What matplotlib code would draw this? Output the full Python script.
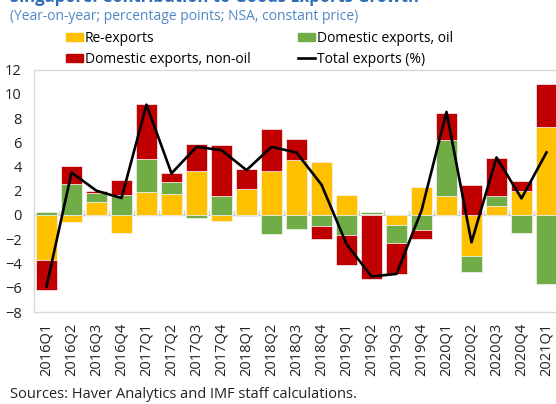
import matplotlib
matplotlib.use("Agg")
import matplotlib.pyplot as plt
from matplotlib.patches import Patch
from matplotlib.lines import Line2D
import numpy as np

plt.rcParams['font.family'] = ['Open Sans', 'DejaVu Sans']

quarters = ["2016Q1", "2016Q2", "2016Q3", "2016Q4", "2017Q1", "2017Q2", "2017Q3",
            "2017Q4", "2018Q1", "2018Q2", "2018Q3", "2018Q4", "2019Q1", "2019Q2",
            "2019Q3", "2019Q4", "2020Q1", "2020Q2", "2020Q3", "2020Q4", "2021Q1"]
re_exports = [-3.7, -0.6, 1.1, -1.5, 1.92, 1.73, 3.6, -0.47, 2.11, 3.6, 4.55, 4.33,
              1.65, 0.05, -0.85, 2.28, 1.56, -3.4, 0.71, 2.0, 7.27]
dom_oil = [0.27, 2.55, 0.7, 1.65, 2.7, 1.0, -0.25, 1.54, -0.1, -1.56, -1.15, -0.9,
           -1.62, 0.22, -1.5, -1.23, 4.64, -1.32, 0.82, -1.45, -5.68]
dom_nonoil = [-2.45, 1.5, 0.17, 1.23, 4.5, 0.7, 2.24, 4.22, 1.65, 3.53, 1.7, -1.07,
              -2.47, -5.3, -2.52, -0.75, 2.25, 2.47, 3.2, 0.77, 3.51]
total = [-5.9, 3.5, 2.0, 1.4, 9.1, 3.43, 5.62, 5.35, 3.7, 5.62, 5.15, 2.5,
         -2.4, -5.07, -4.86, 0.36, 8.5, -2.25, 4.75, 1.37, 5.16]

c_re = "#FFC000"
c_oil = "#70AD47"
c_non = "#C00000"

fig = plt.figure(figsize=(5.56, 4.04), dpi=100)
ax = fig.add_axes([34/556, 92/404, 525/556, 242.5/404])

x = np.arange(len(quarters))
pos = np.zeros(len(x))
neg = np.zeros(len(x))
for vals, col in [(re_exports, c_re), (dom_oil, c_oil), (dom_nonoil, c_non)]:
    v = np.array(vals)
    bottom = np.where(v >= 0, pos, neg)
    ax.bar(x, v, bottom=bottom, width=0.84, color=col, edgecolor="#f4f4f4",
           linewidth=0.5, zorder=2)
    pos = pos + np.where(v >= 0, v, 0)
    neg = neg + np.where(v < 0, v, 0)

ax.axhline(0, color="#d0d0d0", lw=1, zorder=1)
ax.vlines(x[:-1] + 0.5, 0, 0.4, color="#d0d0d0", lw=1, zorder=1)
ax.plot(x, total, color="black", lw=1.9, zorder=3)

ax.set_xlim(-0.5, len(x) - 0.5)
ax.set_ylim(-8, 12)
ax.set_yticks(range(-8, 13, 2))
ax.set_xticks(x)
ax.set_xticklabels(quarters, rotation=90)
ax.tick_params(axis="both", length=0, labelsize=10.5, colors="#222222")
ax.tick_params(axis="x", pad=8)
ax.tick_params(axis="y", pad=9)
for s in ax.spines.values():
    s.set_color("#d9d9d9")
    s.set_linewidth(1)

handles = [Patch(color=c_re), Patch(color=c_non), Patch(color=c_oil),
           Line2D([], [], color="black", lw=1.9)]
labels = ["Re-exports", "Domestic exports, non-oil", "Domestic exports, oil",
          "Total exports (%)"]
fig.legend(handles, labels, ncol=2, loc="upper left",
           bbox_to_anchor=(66/556, 1 - 31/404), frameon=False, fontsize=10,
           handlelength=1.2, handleheight=0.55, handletextpad=0.15,
           columnspacing=3.45, labelspacing=0.42, borderaxespad=0, borderpad=0)

fig.text(10/556, 1 + 3/404, "Singapore: Contribution to Goods Exports Growth",
         fontsize=12, fontweight="bold", color="#2f6fb5", va="center")
fig.text(10/556, 1 - 17/404,
         "(Year-on-year; percentage points; NSA, constant price)",
         fontsize=10, color="#4f88c6", va="center")
fig.text(10/556, 1 - 395/404, "Sources: Haver Analytics and IMF staff calculations.",
         fontsize=10.5, color="#222222", va="center")

fig.savefig("out.png", dpi=100)
